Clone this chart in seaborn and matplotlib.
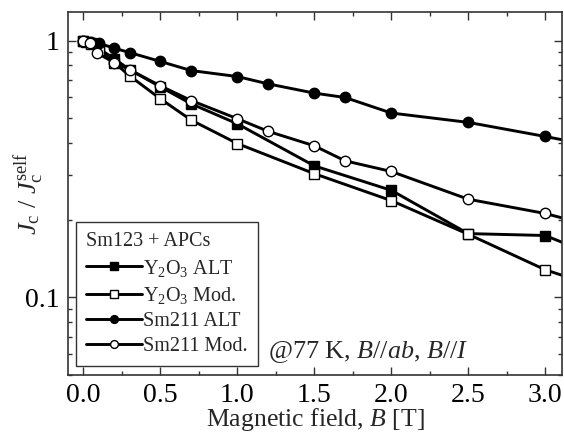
import numpy as np
import pandas as pd
import matplotlib
matplotlib.use("Agg")
import matplotlib.pyplot as plt
import seaborn as sns
from matplotlib.ticker import MultipleLocator, LogLocator, NullFormatter, FixedLocator, FixedFormatter

# Jc(B)/Jc(self field), 77 K, B//ab
y2o3_alt_B = [0.0, 0.05, 0.1, 0.2, 0.3, 0.5, 0.7, 1.0, 1.5, 2.0, 2.5, 3.0, 3.5]
y2o3_alt_J = [1.0, 0.98, 0.93, 0.85, 0.77, 0.66, 0.567, 0.474, 0.325, 0.261, 0.177, 0.174, 0.132]

y2o3_mod_B = [0.0, 0.02, 0.05, 0.1, 0.2, 0.3, 0.5, 0.7, 1.0, 1.5, 2.0, 2.5, 3.0, 3.5]
y2o3_mod_J = [1.0, 0.99, 0.97, 0.91, 0.82, 0.729, 0.593, 0.49, 0.397, 0.303, 0.238, 0.176, 0.128, 0.102]

sm211_alt_B = [0.0, 0.05, 0.1, 0.2, 0.3, 0.5, 0.7, 1.0, 1.2, 1.5, 1.7, 2.0, 2.5, 3.0, 3.5]
sm211_alt_J = [1.0, 0.99, 0.976, 0.934, 0.898, 0.829, 0.764, 0.724, 0.678, 0.624, 0.600, 0.522, 0.480, 0.423, 0.37]

sm211_mod_B = [0.0, 0.04, 0.09, 0.2, 0.3, 0.5, 0.7, 1.0, 1.2, 1.5, 1.7, 2.0, 2.5, 3.0, 3.5]
sm211_mod_J = [1.0, 0.976, 0.893, 0.821, 0.77, 0.666, 0.584, 0.496, 0.443, 0.389, 0.340, 0.309, 0.241, 0.212, 0.177]

labels = [r"Y$_2$O$_3$ ALT", r"Y$_2$O$_3$ Mod.", "Sm211 ALT", "Sm211 Mod."]
x_ticks = [0.0, 0.5, 1.0, 1.5, 2.0, 2.5, 3.0]

sns.set_style("ticks")
plt.rcParams["font.family"] = ["Liberation Serif", "DejaVu Serif"]
plt.rcParams["mathtext.fontset"] = "custom"
plt.rcParams["mathtext.rm"] = "Liberation Serif"
plt.rcParams["mathtext.it"] = "Liberation Serif:italic"

fig = plt.figure(figsize=(5.64, 4.34), dpi=100)
ax = fig.add_axes([0.1206, 0.136, 0.876, 0.836])

series = [
    (y2o3_alt_B, y2o3_alt_J, "s", "black"),
    (y2o3_mod_B, y2o3_mod_J, "s", "white"),
    (sm211_alt_B, sm211_alt_J, "o", "black"),
    (sm211_mod_B, sm211_mod_J, "o", "white"),
]
for (b, j, mk, fc), lab in zip(series, labels):
    df = pd.DataFrame({"B": b, "J": j})
    sns.lineplot(data=df, x="B", y="J", ax=ax, color="black", lw=2.1,
                 marker=mk, markersize=7.5, markerfacecolor=fc,
                 markeredgecolor="black", markeredgewidth=1, label=lab)

ax.set_yscale("log")
ax.set_xlim(-0.1, 3.11)
ax.set_ylim(0.0498, 1.29)

ax.xaxis.set_major_locator(FixedLocator(x_ticks))
ax.xaxis.set_major_formatter(FixedFormatter([f"{v:.1f}" for v in x_ticks]))
ax.xaxis.set_minor_locator(MultipleLocator(0.25))
ax.yaxis.set_major_locator(FixedLocator([0.1, 1]))
ax.yaxis.set_major_formatter(FixedFormatter(["0.1", "1"]))
ax.yaxis.set_minor_locator(LogLocator(base=10, subs=np.arange(2, 10) * 1.0))
ax.yaxis.set_minor_formatter(NullFormatter())

ax.tick_params(which="both", direction="in", top=True, right=True, width=1, colors="#333333",
               labelcolor="black")
ax.tick_params(which="major", length=6, labelsize=20, pad=6)
ax.tick_params(which="minor", length=3)
for sp in ax.spines.values():
    sp.set_linewidth(1.2)
    sp.set_color("#333333")

ax.set_xlabel(r"Magnetic field, $\it{B}$ [T]", fontsize=18.5, labelpad=-1.5)
ax.set_ylabel(r"$J_\mathrm{c}$ / $J_\mathrm{c}^\mathrm{self}$", fontsize=19)
ax.yaxis.set_label_coords(-0.045, 0.5)

leg = ax.legend(title="Sm123 + APCs", loc="lower left", bbox_to_anchor=(0.016, 0.025),
                borderaxespad=0, fontsize=14.5, title_fontsize=14.5, frameon=True,
                fancybox=False, edgecolor="#333333", framealpha=1, handlelength=2.8,
                handletextpad=0.05, labelspacing=0.3, borderpad=0.5, markerscale=0.75,
                alignment="left")
leg.get_frame().set_linewidth(1)

ax.text(0.405, 0.063, r"@77 K, $\it{B}$//$\it{ab}$, $\it{B}$//$\it{I}$", transform=ax.transAxes,
        fontsize=18.8, va="center", ha="left")

fig.savefig("out.png", dpi=100)
